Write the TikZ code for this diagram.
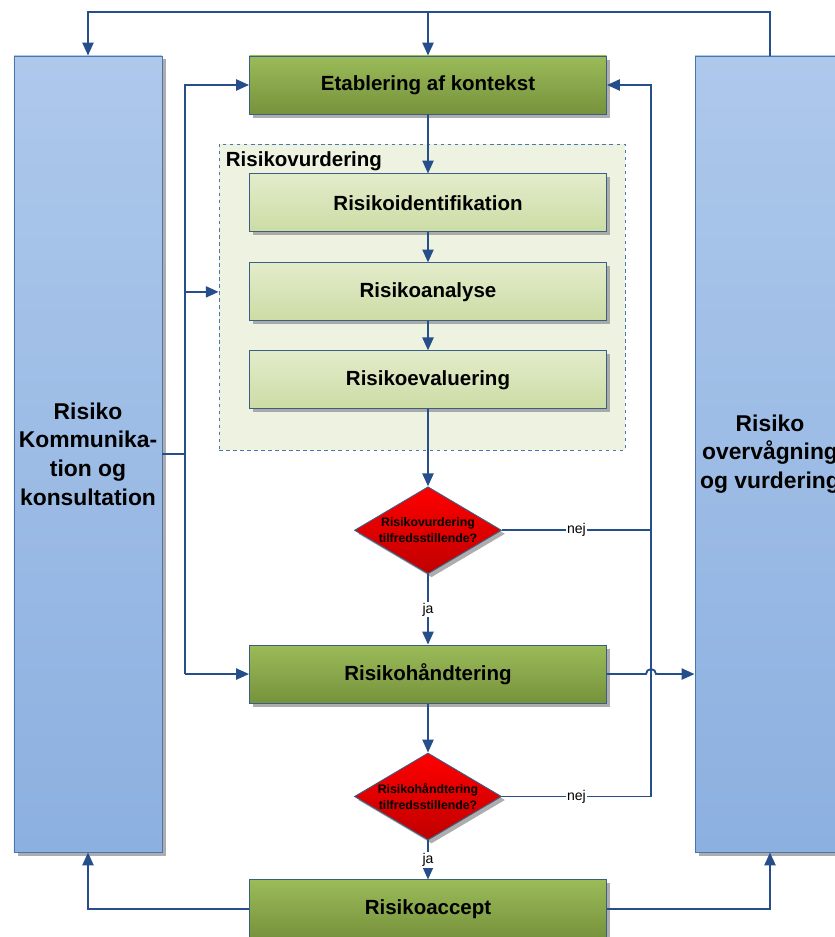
\documentclass[tikz,border=0pt]{standalone}
\usepackage{fontspec}
\setmainfont{Liberation Sans}
\usetikzlibrary{arrows.meta,positioning,shapes.geometric,shadows}

\definecolor{flowline}{HTML}{254E8A}
\definecolor{boxedge}{HTML}{3B5F84}
\definecolor{sideedge}{HTML}{4A76B0}

\begin{document}
\begin{tikzpicture}[x=0.03cm,y=-0.03cm,>={Triangle[length=11pt,width=9.5pt]},
        flow/.style={draw=flowline,line width=1.6pt},
        main box/.style={rectangle,draw=boxedge,line width=0.8pt,
          top color={rgb,255:red,155;green,187;blue,89},bottom color={rgb,255:red,118;green,146;blue,60},
          minimum width=10.71cm,minimum height=1.74cm,font=\fontsize{17.5}{21}\selectfont\bfseries,
          drop shadow={shadow xshift=3pt,shadow yshift=-3pt,fill=gray!80,opacity=0.8}},
        sub box/.style={main box,top color={rgb,255:red,227;green,236;blue,203},
          bottom color={rgb,255:red,204;green,220;blue,165}},
        side box/.style={rectangle,draw=sideedge,line width=0.8pt,
          top color={rgb,255:red,173;green,200;blue,235},bottom color={rgb,255:red,140;green,176;blue,224},
          minimum width=4.44cm,minimum height=23.88cm,align=center,
          font=\fontsize{19.5}{24.5}\selectfont\bfseries,
          drop shadow={shadow xshift=3pt,shadow yshift=-3pt,fill=gray!80,opacity=0.8}},
        group box/.style={rectangle,draw=sideedge,dashed,line width=0.6pt,
          fill={rgb,255:red,238;green,243;blue,225},minimum width=12.18cm,minimum height=9.18cm},
        group title/.style={anchor=north west,inner sep=3pt,font=\fontsize{17.5}{21}\selectfont\bfseries},
        decision/.style={diamond,draw=boxedge,line width=0.8pt,aspect=1.69,inner sep=0pt,
          top color={rgb,255:red,255;green,0;blue,0},bottom color={rgb,255:red,192;green,0;blue,0},
          minimum width=4.41cm,minimum height=2.61cm,align=center,
          font=\fontsize{10.5}{14}\selectfont\bfseries,
          drop shadow={shadow xshift=3pt,shadow yshift=-3pt,fill=gray!80,opacity=0.8}},
        answer/.style={fill=white,inner sep=1pt,font=\fontsize{12}{14}\selectfont}]
        \useasboundingbox (0,0) rectangle (834,937);

        % side boxes
        \node[side box] (com) at (88,454) {Risiko\\Kommunika-\\tion og\\konsultation};
        \node[side box,minimum width=4.5cm] (mon) at (770,454) {Risiko\\overvågning\\og vurdering};

        % risk assessment group
        \node[group box] (grp) at (422,297) {};
        \node[group title] (grptitle) at ([xshift=3pt,yshift=-4pt]grp.north west) {Risikovurdering};

        % main column
        \node[main box] (ctx) at (428,85) {Etablering af kontekst};
        \node[sub box] (ident) [below=1.77cm of ctx] {Risikoidentifikation};
        \node[sub box] (anal) [below=0.9cm of ident] {Risikoanalyse};
        \node[sub box] (eval) [below=0.87cm of anal] {Risikoevaluering};
        \node[decision] (dec1) [below=2.31cm of eval] {Risikovurdering\\tilfredsstillende?};
        \node[main box] (treat) [below=2.11cm of dec1] {Risikohåndtering};
        \node[decision] (dec2) [below=1.47cm of treat] {Risikohåndtering\\tilfredsstillende?};
        \node[main box] (accept) [below=1.17cm of dec2] {Risikoaccept};

        \coordinate (topL) at (88,12);
        \coordinate (busL) at (185,454);
        \coordinate (busR) at (651,530);

        \draw[flow,->] (ctx) -- (ident);
        \draw[flow,->] (ident) -- (anal);
        \draw[flow,->] (anal) -- (eval);
        \draw[flow,->] (eval) -- (dec1);
        \draw[flow,->] (dec1) -- node[answer] {ja} (treat);
        \draw[flow,->] (treat) -- (dec2);
        \draw[flow,->] (dec2) -- node[answer] {ja} (accept);

        % top loop
        \draw[flow,->] (mon.north) |- (topL) -- (com.north);
        \draw[flow,->] (ctx.north |- topL) -- (ctx.north);

        % left bus
        \draw[flow] (com.east) -- (busL);
        \draw[flow,->] (busL |- treat.west) -- (busL |- ctx.west) -- (ctx.west);
        \draw[flow,->] (busL |- anal.west) -- (grp.west |- anal.west);
        \draw[flow,->] (busL |- treat.west) -- (treat.west);

        % right bus
        \draw[flow] (dec1.east) -- node[answer] {nej} (busR |- dec1.east);
        \draw[flow,->] (dec2.east) -- node[answer] {nej} (busR |- dec2.east) -- (busR |- ctx.east) -- (ctx.east);
        \draw[flow,->] (treat.east) -- ([xshift=-0.15cm]busR |- treat.east)
          arc[start angle=180,end angle=0,radius=0.15cm] -- (mon.west |- treat.east);

        % bottom
        \draw[flow,->] (accept.west) -| (com.south);
        \draw[flow,->] (accept.east) -| (mon.south);
\end{tikzpicture}
\end{document}
